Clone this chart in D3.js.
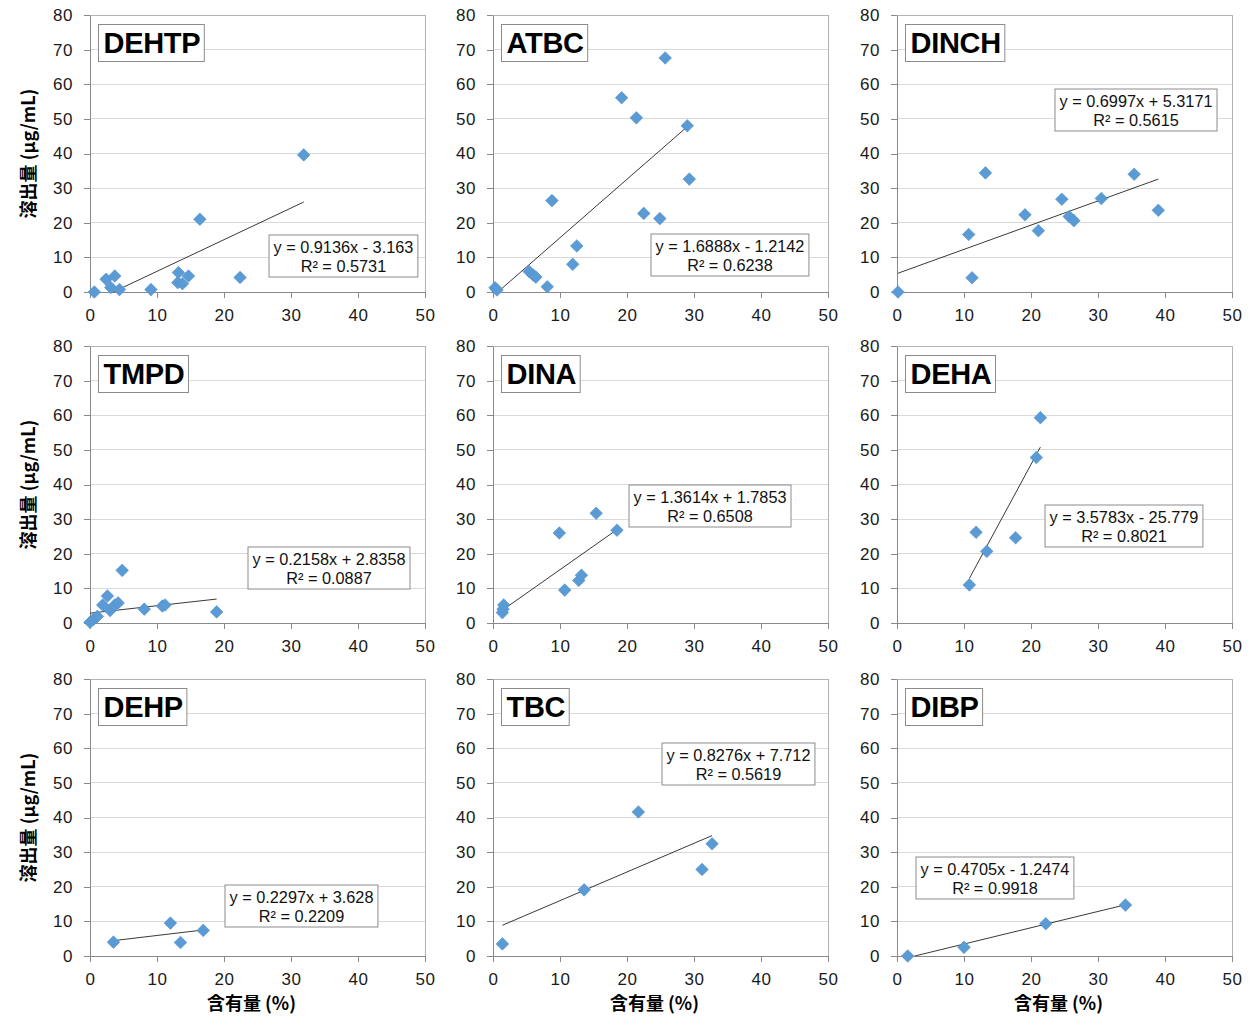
<!DOCTYPE html>
<html>
<head>
<meta charset="utf-8">
<script src="https://cdn.jsdelivr.net/npm/d3@7"></script>
<style>
  html, body { margin: 0; padding: 0; background: #fff; }
  svg { display: block; }
</style>
</head>
<body>
<svg id="chart" width="1253" height="1019"></svg>
<script>
// ---------------- DATA ----------------
const panelNames = ["DEHTP", "ATBC", "DINCH", "TMPD", "DINA", "DEHA", "DEHP", "TBC", "DIBP"];

const contentDEHTP = [0.65, 2.4, 3.1, 3.7, 4.4, 9.1, 13.1, 13.2, 13.8, 14.7, 16.4, 22.4, 31.9];
const elutionDEHTP = [0.0, 3.7, 1.3, 4.6, 0.7, 0.7, 2.7, 5.6, 2.4, 4.6, 21.0, 4.2, 39.6];

const contentATBC = [0.3, 0.6, 5.4, 6.0, 6.4, 8.1, 8.8, 11.9, 12.5, 19.2, 21.4, 22.5, 24.9, 25.7, 29.0, 29.3];
const elutionATBC = [1.2, 0.6, 5.9, 4.9, 4.3, 1.5, 26.4, 8.0, 13.3, 56.1, 50.3, 22.7, 21.2, 67.6, 48.0, 32.6];

const contentDINCH = [0.15, 10.7, 11.2, 13.2, 19.1, 21.1, 24.6, 25.7, 26.4, 30.5, 35.4, 39.0];
const elutionDINCH = [0.0, 16.6, 4.1, 34.4, 22.3, 17.7, 26.8, 21.8, 20.6, 27.0, 34.0, 23.6];

const contentTMPD = [0.0, 0.5, 1.1, 1.9, 2.6, 3.0, 3.7, 4.2, 4.8, 8.1, 10.8, 11.2, 18.9];
const elutionTMPD = [0.2, 1.0, 1.9, 5.2, 7.8, 3.6, 5.2, 5.8, 15.2, 4.0, 4.9, 5.2, 3.2];

const contentDINA = [1.4, 1.5, 1.6, 9.9, 10.7, 12.8, 13.2, 15.4, 18.5];
const elutionDINA = [3.0, 4.0, 5.2, 26.0, 9.5, 12.3, 13.8, 31.7, 26.8];

const contentDEHA = [10.8, 11.8, 13.4, 17.7, 20.8, 21.4];
const elutionDEHA = [11.0, 26.2, 20.7, 24.6, 47.8, 59.3];

const contentDEHP = [3.5, 12.0, 13.5, 16.9];
const elutionDEHP = [4.0, 9.5, 3.9, 7.4];

const contentTBC = [1.4, 13.6, 21.7, 31.2, 32.7];
const elutionTBC = [3.5, 19.1, 41.6, 25.0, 32.4];

const contentDIBP = [1.6, 10.0, 22.2, 34.1];
const elutionDIBP = [0.0, 2.5, 9.3, 14.7];

const contents = [contentDEHTP, contentATBC, contentDINCH, contentTMPD, contentDINA, contentDEHA, contentDEHP, contentTBC, contentDIBP];
const elutions = [elutionDEHTP, elutionATBC, elutionDINCH, elutionTMPD, elutionDINA, elutionDEHA, elutionDEHP, elutionTBC, elutionDIBP];

const slopes = [0.9136, 1.6888, 0.6997, 0.2158, 1.3614, 3.5783, 0.2297, 0.8276, 0.4705];
const intercepts = [-3.163, -1.2142, 5.3171, 2.8358, 1.7853, -25.779, 3.628, 7.712, -1.2474];
const equationLabels = ["y = 0.9136x - 3.163", "y = 1.6888x - 1.2142", "y = 0.6997x + 5.3171",
  "y = 0.2158x + 2.8358", "y = 1.3614x + 1.7853", "y = 3.5783x - 25.779",
  "y = 0.2297x + 3.628", "y = 0.8276x + 7.712", "y = 0.4705x - 1.2474"];
const r2Labels = ["R² = 0.5731", "R² = 0.6238", "R² = 0.5615", "R² = 0.0887", "R² = 0.6508",
  "R² = 0.8021", "R² = 0.2209", "R² = 0.5619", "R² = 0.9918"];

const xTicks = [0, 10, 20, 30, 40, 50];
const yTicks = [0, 10, 20, 30, 40, 50, 60, 70, 80];
const yTitle = "溶出量 (μg/mL)";
const xTitle = "含有量 (%)";

// ---------------- LAYOUT ----------------
const colLefts = [90, 493, 897];
const rowTops = [15, 346, 679];
const plotW = 335, plotH = 277;
// equation box offsets (px from plot's top-left)
const eqOffsets = [[179, 220], [158, 219], [158, 74], [158, 201], [136, 139], [148, 159], [135, 206], [169, 64], [19, 178]];

const font = "Arial, 'Liberation Sans', sans-serif";
const cjkFont = "'Noto Sans CJK JP', 'Noto Sans CJK SC', sans-serif";
const markerColor = "#5B9BD5";

const svg = d3.select("#chart");

panelNames.forEach((name, i) => {
  const col = i % 3, row = Math.floor(i / 3);
  const left = colLefts[col], top = rowTops[row];
  const g = svg.append("g").attr("transform", `translate(${left},${top})`);

  const x = d3.scaleLinear().domain([0, 50]).range([0, plotW]);
  const y = d3.scaleLinear().domain([0, 80]).range([plotH, 0]);

  // gridlines
  g.append("g").selectAll("line").data(yTicks.filter(t => t > 0 && t < 80)).join("line")
    .attr("x1", 0).attr("x2", plotW)
    .attr("y1", d => y(d)).attr("y2", d => y(d))
    .attr("stroke", "#d9d9d9").attr("stroke-width", 1)
    .attr("shape-rendering", "crispEdges");

  // plot border
  g.append("rect").attr("x", 0).attr("y", 0).attr("width", plotW).attr("height", plotH)
    .attr("fill", "none").attr("stroke", "#b3b3b3").attr("stroke-width", 1)
    .attr("shape-rendering", "crispEdges");

  // axes
  const yAxis = d3.axisLeft(y).tickValues(yTicks).tickSize(6).tickSizeOuter(0).tickPadding(11);
  const xAxis = d3.axisBottom(x).tickValues(xTicks).tickSize(6).tickSizeOuter(0).tickPadding(11);

  const ya = g.append("g").call(yAxis);
  const xa = g.append("g").attr("transform", `translate(0,${plotH})`).call(xAxis);
  [ya, xa].forEach(a => {
    a.selectAll("path, line").attr("stroke", "#898989").attr("shape-rendering", "crispEdges");
    a.selectAll("text").attr("font-family", font).attr("font-size", 17).attr("fill", "#1a1a1a")
      .attr("letter-spacing", "0.6px");
  });

  // trendline (clipped to the 0..80 range like Excel)
  const xs = contents[i], ys = elutions[i];
  const m = slopes[i], b = intercepts[i];
  let x0 = d3.min(xs), x1 = d3.max(xs);
  if (m * x0 + b < 0) x0 = -b / m;
  if (m * x1 + b > 80) x1 = (80 - b) / m;
  g.append("line")
    .attr("x1", x(x0)).attr("y1", y(m * x0 + b))
    .attr("x2", x(x1)).attr("y2", y(m * x1 + b))
    .attr("stroke", "#222").attr("stroke-width", 0.9);

  // markers (diamonds)
  const pts = xs.map((v, k) => [v, ys[k]]);
  g.append("g").selectAll("path").data(pts).join("path")
    .attr("d", "M0,-6.3L6.3,0L0,6.3L-6.3,0Z")
    .attr("transform", d => `translate(${x(d[0])},${y(d[1])})`)
    .attr("fill", markerColor).attr("stroke", "#4f8fcb").attr("stroke-width", 0.6);

  // name box
  const nameG = g.append("g").attr("transform", "translate(8.5,9.5)");
  const nameText = nameG.append("text").text(name)
    .attr("font-family", font).attr("font-weight", "bold").attr("font-size", 29)
    .attr("letter-spacing", "-0.3px")
    .attr("x", 5).attr("y", 28.5).attr("fill", "#000");
  const nw = nameText.node().getComputedTextLength();
  nameG.insert("rect", "text").attr("x", 0).attr("y", 0).attr("width", nw + 9).attr("height", 37)
    .attr("fill", "#fff").attr("stroke", "#8c8c8c").attr("stroke-width", 1);

  // equation box
  const [ex, ey] = eqOffsets[i];
  const eqG = g.append("g").attr("transform", `translate(${ex},${ey})`);
  const t1 = eqG.append("text").text(equationLabels[i])
    .attr("font-family", font).attr("font-size", 16.3).attr("fill", "#111").attr("text-anchor", "middle")
    .attr("y", 18);
  const t2 = eqG.append("text").text(r2Labels[i])
    .attr("font-family", font).attr("font-size", 16.3).attr("fill", "#111").attr("text-anchor", "middle")
    .attr("y", 37);
  const ew = Math.max(t1.node().getComputedTextLength(), t2.node().getComputedTextLength()) + 9;
  t1.attr("x", ew / 2); t2.attr("x", ew / 2);
  eqG.insert("rect", "text").attr("x", 0).attr("y", 0).attr("width", ew).attr("height", 42)
    .attr("fill", "#fff").attr("stroke", "#8c8c8c").attr("stroke-width", 1);

  // axis titles
  if (col === 0) {
    svg.append("text").text(yTitle)
      .attr("transform", `translate(27,${top + plotH / 2}) rotate(-90)`)
      .attr("text-anchor", "middle").attr("dominant-baseline", "central")
      .attr("font-family", cjkFont).attr("font-weight", "bold").attr("font-size", 18).attr("fill", "#000");
  }
  if (row === 2) {
    svg.append("text").text(xTitle)
      .attr("x", left + plotW / 2 - 6).attr("y", top + plotH + 54)
      .attr("text-anchor", "middle")
      .attr("font-family", cjkFont).attr("font-weight", "bold").attr("font-size", 18).attr("fill", "#000");
  }
});
</script>
</body>
</html>
